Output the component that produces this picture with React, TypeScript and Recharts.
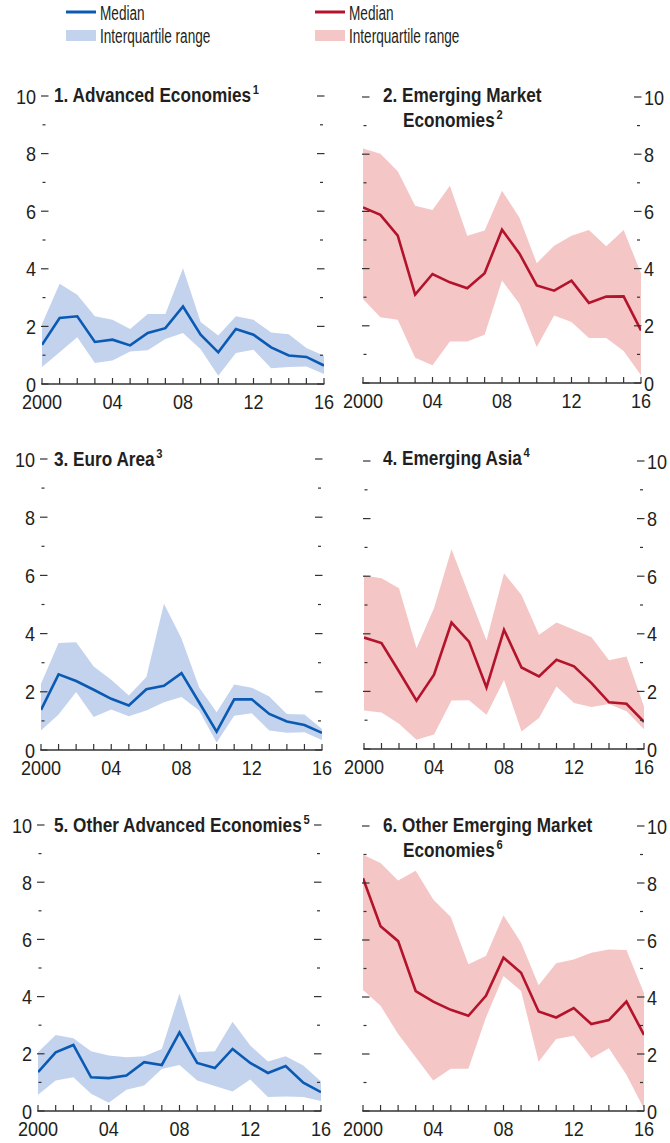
import React from 'react';
import { ComposedChart, Area, Line, XAxis, YAxis } from 'recharts';

const FONT = "'Liberation Sans', Arial, sans-serif";
const TEXT = '#231f20';
const AXIS = '#333333';

const BLUE_LINE = '#0a5ab4';
const BLUE_BAND = '#c3d3ee';
const RED_LINE = '#b3132b';
const RED_BAND = '#f5c6c6';

const years = [2000, 2001, 2002, 2003, 2004, 2005, 2006, 2007, 2008, 2009, 2010, 2011, 2012, 2013, 2014, 2015, 2016];
const yTicks = [0, 1, 2, 3, 4, 5, 6, 7, 8, 9, 10];
const xTickLabels: Record<number, string> = { 2000: '2000', 2004: '04', 2008: '08', 2012: '12', 2016: '16' };

// 1. Advanced Economies
const advMedian = [1.36, 2.29, 2.35, 1.46, 1.54, 1.34, 1.77, 1.94, 2.69, 1.71, 1.1, 1.91, 1.71, 1.27, 0.99, 0.94, 0.64];
const advHigh = [2.08, 3.48, 3.1, 2.35, 2.23, 1.91, 2.43, 2.43, 4.02, 2.15, 1.68, 2.35, 2.23, 1.79, 1.73, 1.25, 0.98];
const advLow = [0.59, 1.1, 1.62, 0.73, 0.82, 1.13, 1.17, 1.56, 1.77, 1.21, 0.29, 1.08, 1.19, 0.55, 0.59, 0.61, 0.35];

// 2. Emerging Market Economies
const emMedian = [6.14, 5.88, 5.15, 3.09, 3.81, 3.52, 3.31, 3.84, 5.36, 4.53, 3.41, 3.23, 3.58, 2.8, 3.02, 3.03, 1.84];
const emHigh = [8.2, 8.02, 7.4, 6.2, 6.05, 6.9, 5.15, 5.33, 6.72, 5.79, 4.19, 4.8, 5.15, 5.35, 4.78, 5.35, 3.84];
const emLow = [2.94, 2.3, 2.21, 0.88, 0.62, 1.45, 1.45, 1.69, 3.58, 2.77, 1.26, 2.36, 2.13, 1.57, 1.57, 1.12, 0.27];

// 3. Euro Area
const euMedian = [1.38, 2.6, 2.37, 2.07, 1.76, 1.53, 2.09, 2.21, 2.64, 1.64, 0.63, 1.74, 1.74, 1.24, 0.98, 0.86, 0.59];
const euHigh = [2.28, 3.68, 3.7, 2.87, 2.41, 1.87, 2.51, 5.03, 3.83, 2.16, 1.3, 2.25, 2.14, 1.84, 1.24, 1.22, 0.72];
const euLow = [0.67, 1.22, 1.99, 1.13, 1.39, 1.16, 1.36, 1.64, 1.82, 1.36, 0.26, 1.18, 1.26, 0.67, 0.59, 0.61, 0.34];

// 4. Emerging Asia
const asMedian = [3.87, 3.68, 2.69, 1.68, 2.58, 4.39, 3.73, 2.14, 4.14, 2.83, 2.52, 3.1, 2.87, 2.29, 1.62, 1.57, 0.94];
const asHigh = [6.02, 5.93, 5.58, 3.5, 4.89, 6.94, 5.35, 3.77, 6.1, 5.35, 3.97, 4.39, 4.14, 3.88, 3.08, 3.21, 1.48];
const asLow = [1.34, 1.27, 0.88, 0.32, 0.5, 1.68, 1.69, 1.19, 2.4, 0.61, 1.08, 2.17, 1.6, 1.46, 1.56, 1.31, 0.69];

// 5. Other Advanced Economies
const oaMedian = [1.36, 2.05, 2.31, 1.18, 1.15, 1.24, 1.71, 1.61, 2.75, 1.68, 1.5, 2.17, 1.68, 1.33, 1.57, 0.99, 0.66];
const oaHigh = [2.05, 2.66, 2.54, 2.09, 1.94, 1.88, 1.91, 2.17, 4.11, 2.05, 2.09, 3.12, 2.29, 1.73, 1.91, 1.59, 1.03];
const oaLow = [0.57, 1.07, 1.18, 0.6, 0.29, 0.74, 0.89, 1.47, 1.61, 1.07, 0.87, 0.68, 1.1, 0.49, 0.51, 0.49, 0.35];

// 6. Other Emerging Market Economies
const oeMedian = [8.17, 6.48, 5.96, 4.21, 3.84, 3.55, 3.34, 4.04, 5.38, 4.85, 3.49, 3.28, 3.61, 3.05, 3.19, 3.84, 2.67];
const oeHigh = [8.99, 8.7, 8.09, 8.43, 7.42, 6.81, 5.15, 5.44, 6.87, 5.9, 4.41, 5.18, 5.32, 5.55, 5.67, 5.65, 4.13];
const oeLow = [4.25, 3.69, 2.7, 1.89, 1.07, 1.48, 1.48, 3.28, 4.74, 4.21, 1.73, 2.53, 2.64, 1.85, 2.2, 1.27, 0.08];

type Panel = {
  key: string;
  lines: string[];
  sup: string;
  median: number[];
  low: number[];
  high: number[];
  lineColor: string;
  bandColor: string;
  side: 'left' | 'right';
  left: number;
  top: number;
  right: number;
  bottom: number;
  titleX: number;
  titleY: number;
};

const panels: Panel[] = [
  { key: 'p1', lines: ['1. Advanced Economies'], sup: '1', median: advMedian, low: advLow, high: advHigh, lineColor: BLUE_LINE, bandColor: BLUE_BAND, side: 'left', left: 42, top: 96, right: 324, bottom: 384, titleX: 54, titleY: 102 },
  { key: 'p2', lines: ['2. Emerging Market', 'Economies'], sup: '2', median: emMedian, low: emLow, high: emHigh, lineColor: RED_LINE, bandColor: RED_BAND, side: 'right', left: 363, top: 97, right: 641, bottom: 383, titleX: 383, titleY: 102 },
  { key: 'p3', lines: ['3. Euro Area'], sup: '3', median: euMedian, low: euLow, high: euHigh, lineColor: BLUE_LINE, bandColor: BLUE_BAND, side: 'left', left: 41, top: 459, right: 322, bottom: 750, titleX: 54, titleY: 466 },
  { key: 'p4', lines: ['4. Emerging Asia'], sup: '4', median: asMedian, low: asLow, high: asHigh, lineColor: RED_LINE, bandColor: RED_BAND, side: 'right', left: 364, top: 461, right: 644, bottom: 749, titleX: 383, titleY: 465 },
  { key: 'p5', lines: ['5. Other Advanced Economies'], sup: '5', median: oaMedian, low: oaLow, high: oaHigh, lineColor: BLUE_LINE, bandColor: BLUE_BAND, side: 'left', left: 38, top: 825, right: 321, bottom: 1111, titleX: 54, titleY: 832 },
  { key: 'p6', lines: ['6. Other Emerging Market', 'Economies'], sup: '6', median: oeMedian, low: oeLow, high: oeHigh, lineColor: RED_LINE, bandColor: RED_BAND, side: 'right', left: 363, top: 826, right: 644, bottom: 1111, titleX: 383, titleY: 832 },
];

const YW = 40; // y axis width
const XH = 32; // x axis height
const ML = 5;
const MR = 5;
const MT = 20;
const MB = 8;

const TICK_FS = 21;
const TICK_SX = 0.86;

function SText(props: any) {
  const { x, y, sx, anchor, children, ...rest } = props;
  return (
    <text
      transform={`translate(${x},${y}) scale(${sx},1)`}
      x={0}
      y={0}
      textAnchor={anchor || 'start'}
      fontFamily={FONT}
      fill={TEXT}
      {...rest}
    >
      {children}
    </text>
  );
}

const makeLeftTick = (showLabel: boolean) => (props: any) => {
  const { x, y, payload } = props;
  const v = payload.value as number;
  const major = v % 2 === 0;
  return (
    <g>
      {major ? (
        <line x1={x - 1} x2={x + 6.5} y1={y} y2={y} stroke={AXIS} strokeWidth={1.2} />
      ) : (
        <line x1={x + 0.5} x2={x + 3.5} y1={y} y2={y} stroke={AXIS} strokeWidth={1.2} />
      )}
      {showLabel && major ? (
        <SText x={x - 6} y={y + 7.5} sx={TICK_SX} anchor="end" fontSize={TICK_FS}>
          {v}
        </SText>
      ) : null}
    </g>
  );
};

const makeRightTick = (showLabel: boolean) => (props: any) => {
  const { x, y, payload } = props;
  const v = payload.value as number;
  const major = v % 2 === 0;
  return (
    <g>
      {major ? (
        <line x1={x - 7} x2={x + 0.5} y1={y} y2={y} stroke={AXIS} strokeWidth={1.2} />
      ) : (
        <line x1={x - 4} x2={x - 1} y1={y} y2={y} stroke={AXIS} strokeWidth={1.2} />
      )}
      {showLabel && major ? (
        <SText x={x + 3} y={y + 7.5} sx={TICK_SX} anchor="start" fontSize={TICK_FS}>
          {v}
        </SText>
      ) : null}
    </g>
  );
};

const XTick = (props: any) => {
  const { x, y, payload } = props;
  const v = payload.value as number;
  const label = xTickLabels[v];
  return (
    <g>
      <line x1={x} x2={x} y1={y} y2={y - 6} stroke={AXIS} strokeWidth={1.2} />
      {label ? (
        <SText x={x} y={y + 25} sx={TICK_SX} anchor="middle" fontSize={TICK_FS}>
          {label}
        </SText>
      ) : null}
    </g>
  );
};

function PanelChart({ p }: { p: Panel }) {
  const data = years.map((yr, i) => ({ year: yr, median: p.median[i], range: [p.low[i], p.high[i]] }));
  const w = p.right - p.left + ML + MR + 2 * YW;
  const h = p.bottom - p.top + MT + MB + XH;
  return (
    <div style={{ position: 'absolute', left: p.left - ML - YW, top: p.top - MT, width: w, height: h }}>
      <ComposedChart width={w} height={h} data={data} margin={{ top: MT, right: MR, bottom: MB, left: ML }}>
        <XAxis
          dataKey="year"
          type="number"
          domain={[2000, 2016]}
          ticks={years}
          interval={0}
          height={XH}
          tickSize={0}
          tickMargin={0}
          tickLine={false}
          axisLine={{ stroke: AXIS, strokeWidth: 1.4 }}
          tick={XTick}
          allowDataOverflow
        />
        <YAxis
          yAxisId="l"
          orientation="left"
          domain={[0, 10]}
          ticks={yTicks}
          interval={0}
          width={YW}
          tickSize={0}
          tickMargin={0}
          tickLine={false}
          axisLine={false}
          tick={makeLeftTick(p.side === 'left')}
          allowDataOverflow
        />
        <YAxis
          yAxisId="r"
          orientation="right"
          domain={[0, 10]}
          ticks={yTicks}
          interval={0}
          width={YW}
          tickSize={0}
          tickMargin={0}
          tickLine={false}
          axisLine={false}
          tick={makeRightTick(p.side === 'right')}
          allowDataOverflow
        />
        <Area
          yAxisId="l"
          type="linear"
          dataKey="range"
          stroke="none"
          fill={p.bandColor}
          fillOpacity={1}
          isAnimationActive={false}
          dot={false}
          activeDot={false}
        />
        <Line
          yAxisId="l"
          type="linear"
          dataKey="median"
          stroke={p.lineColor}
          strokeWidth={2.6}
          dot={false}
          activeDot={false}
          isAnimationActive={false}
        />
        <Line
          yAxisId="r"
          type="linear"
          dataKey="median"
          stroke="none"
          strokeWidth={0}
          dot={false}
          activeDot={false}
          legendType="none"
          isAnimationActive={false}
        />
      </ComposedChart>
    </div>
  );
}

const LEG_FS = 20;
const LEG_SX = 0.68;
const TITLE_FS = 20;
const TITLE_SX = 0.86;

function Overlay() {
  return (
    <svg width={670} height={1143} style={{ position: 'absolute', left: 0, top: 0, pointerEvents: 'none' }}>
      <line x1={66} x2={96} y1={12} y2={12} stroke={BLUE_LINE} strokeWidth={3} />
      <SText x={100} y={20} sx={LEG_SX} fontSize={LEG_FS}>Median</SText>
      <rect x={66} y={30} width={30} height={11} fill={BLUE_BAND} />
      <SText x={100} y={43} sx={LEG_SX} fontSize={LEG_FS}>Interquartile range</SText>

      <line x1={315} x2={345} y1={12} y2={12} stroke={RED_LINE} strokeWidth={3} />
      <SText x={349} y={20} sx={LEG_SX} fontSize={LEG_FS}>Median</SText>
      <rect x={315} y={30} width={30} height={11} fill={RED_BAND} />
      <SText x={349} y={43} sx={LEG_SX} fontSize={LEG_FS}>Interquartile range</SText>

      {panels.map((p) => (
        <g key={p.key}>
          {p.lines.map((ln, i) => {
            const last = i === p.lines.length - 1;
            return (
              <SText
                key={i}
                x={p.titleX + (i > 0 ? 20 : 0)}
                y={p.titleY + i * 25}
                sx={TITLE_SX}
                fontWeight="bold"
                fontSize={TITLE_FS}
              >
                {ln}
                {last ? (
                  <tspan fontSize={13} fontWeight="bold" dx={2} dy={-8}>
                    {p.sup}
                  </tspan>
                ) : null}
              </SText>
            );
          })}
        </g>
      ))}
    </svg>
  );
}

export default function App() {
  return (
    <div style={{ position: 'absolute', left: 0, top: 0, width: 670, height: 1143, background: '#ffffff', overflow: 'hidden' }}>
      {panels.map((p) => (
        <PanelChart key={p.key} p={p} />
      ))}
      <Overlay />
    </div>
  );
}
